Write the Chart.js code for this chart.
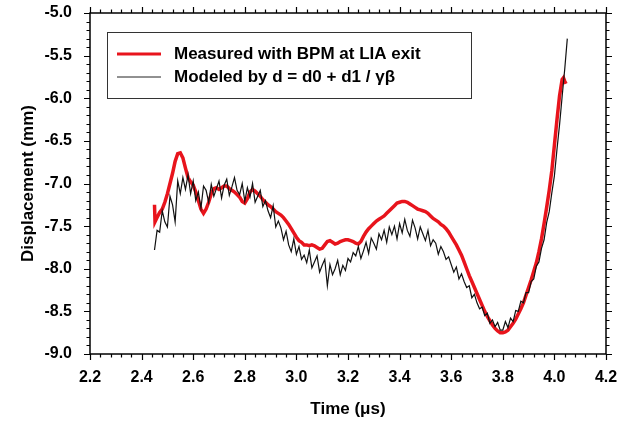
<!DOCTYPE html>
<html>
<head>
<meta charset="utf-8">
<script src="https://cdn.jsdelivr.net/npm/chart.js@4.4.1/dist/chart.umd.min.js"></script>
<style>
  html, body { margin: 0; padding: 0; background: #fff; }
  #wrap { width: 630px; height: 424px; }
</style>
</head>
<body>
<div id="wrap"><canvas id="chart" width="630" height="424"></canvas></div>
<script>
// tick labels
var xTicks = [2.2, 2.4, 2.6, 2.8, 3.0, 3.2, 3.4, 3.6, 3.8, 4.0, 4.2];
var yTicks = [-9.0, -8.5, -8.0, -7.5, -7.0, -6.5, -6.0, -5.5, -5.0];

var seriesNames = ["Measured with BPM at LIA exit", "Modeled by d = d0 + d1 / \u03b3\u03b2"];

// measured (red)
var redTime = [2.450, 2.452, 2.46, 2.47, 2.48, 2.49, 2.50, 2.51, 2.52, 2.53, 2.54, 2.55, 2.56, 2.57, 2.58, 2.59,
  2.60, 2.61, 2.62, 2.63, 2.64, 2.65, 2.66, 2.67, 2.68, 2.69, 2.70, 2.71, 2.72, 2.73, 2.74, 2.75, 2.76, 2.77, 2.78, 2.79,
  2.80, 2.81, 2.82, 2.83, 2.84, 2.85, 2.86, 2.87, 2.88, 2.89, 2.90, 2.91, 2.92, 2.93, 2.94, 2.95, 2.96, 2.97, 2.98, 2.99,
  3.00, 3.01, 3.02, 3.03, 3.04, 3.05, 3.06, 3.07, 3.08, 3.09, 3.10, 3.11, 3.12, 3.13, 3.14, 3.15, 3.16, 3.17, 3.18, 3.19,
  3.20, 3.21, 3.22, 3.23, 3.24, 3.25, 3.26, 3.27, 3.28, 3.29, 3.30, 3.31, 3.32, 3.33, 3.34, 3.35, 3.36, 3.37, 3.38, 3.39,
  3.40, 3.41, 3.42, 3.43, 3.44, 3.45, 3.46, 3.47, 3.48, 3.49, 3.50, 3.51, 3.52, 3.53, 3.54, 3.55, 3.56, 3.57, 3.58, 3.59,
  3.60, 3.61, 3.62, 3.63, 3.64, 3.65, 3.66, 3.67, 3.68, 3.69, 3.70, 3.71, 3.72, 3.73, 3.74, 3.75, 3.76, 3.77, 3.78, 3.79,
  3.80, 3.81, 3.82, 3.83, 3.84, 3.85, 3.86, 3.87, 3.88, 3.89, 3.90, 3.91, 3.92, 3.93, 3.94, 3.95, 3.96, 3.97, 3.98, 3.99,
  4.00, 4.01, 4.02, 4.03, 4.035, 4.04, 4.045];
var redDisp = [-7.25, -7.45, -7.40, -7.34, -7.30, -7.22, -7.12, -7.00, -6.88, -6.74, -6.65, -6.64, -6.70, -6.82, -6.93, -6.98,
  -7.02, -7.10, -7.20, -7.30, -7.35, -7.30, -7.22, -7.12, -7.06, -7.05, -7.07, -7.05, -7.03, -7.03, -7.06, -7.08, -7.10, -7.13, -7.16, -7.21,
  -7.23, -7.18, -7.10, -7.07, -7.09, -7.12, -7.15, -7.19, -7.22, -7.25, -7.27, -7.30, -7.33, -7.35, -7.37, -7.40, -7.44, -7.48, -7.53, -7.58,
  -7.63, -7.67, -7.69, -7.72, -7.72, -7.73, -7.72, -7.73, -7.75, -7.77, -7.76, -7.72, -7.68, -7.67, -7.69, -7.71, -7.70, -7.68, -7.67, -7.66,
  -7.66, -7.67, -7.68, -7.70, -7.71, -7.68, -7.62, -7.57, -7.53, -7.50, -7.47, -7.44, -7.42, -7.40, -7.38, -7.35, -7.32, -7.29, -7.26, -7.23,
  -7.22, -7.21, -7.21, -7.22, -7.24, -7.26, -7.28, -7.30, -7.31, -7.32, -7.33, -7.35, -7.38, -7.41, -7.43, -7.45, -7.48, -7.50, -7.53, -7.57,
  -7.62, -7.67, -7.72, -7.78, -7.84, -7.92, -8.00, -8.08, -8.15, -8.22, -8.29, -8.36, -8.43, -8.50, -8.56, -8.61, -8.66, -8.70, -8.73, -8.75,
  -8.75, -8.74, -8.72, -8.68, -8.64, -8.59, -8.53, -8.47, -8.40, -8.31, -8.22, -8.13, -8.03, -7.93, -7.80, -7.65, -7.47, -7.28, -7.08, -6.85,
  -6.55, -6.25, -5.97, -5.78, -5.76, -5.80, -5.83];

// modeled (black, noisy)
var blackTime = [2.45, 2.46, 2.47, 2.48, 2.49, 2.50, 2.51, 2.52, 2.53, 2.54, 2.55, 2.56, 2.57, 2.58, 2.59,
  2.60, 2.61, 2.62, 2.63, 2.64, 2.65, 2.66, 2.67, 2.68, 2.69, 2.70, 2.71, 2.72, 2.73, 2.74, 2.75, 2.76, 2.77, 2.78, 2.79,
  2.80, 2.81, 2.82, 2.83, 2.84, 2.85, 2.86, 2.87, 2.88, 2.89, 2.90, 2.91, 2.92, 2.93, 2.94, 2.95, 2.96, 2.97, 2.98, 2.99,
  3.00, 3.01, 3.02, 3.03, 3.04, 3.05, 3.06, 3.07, 3.08, 3.09, 3.10, 3.11, 3.12, 3.13, 3.14, 3.15, 3.16, 3.17, 3.18, 3.19,
  3.20, 3.21, 3.22, 3.23, 3.24, 3.25, 3.26, 3.27, 3.28, 3.29, 3.30, 3.31, 3.32, 3.33, 3.34, 3.35, 3.36, 3.37, 3.38, 3.39,
  3.40, 3.41, 3.42, 3.43, 3.44, 3.45, 3.46, 3.47, 3.48, 3.49, 3.50, 3.51, 3.52, 3.53, 3.54, 3.55, 3.56, 3.57, 3.58, 3.59,
  3.60, 3.61, 3.62, 3.63, 3.64, 3.65, 3.66, 3.67, 3.68, 3.69, 3.70, 3.71, 3.72, 3.73, 3.74, 3.75, 3.76, 3.77, 3.78, 3.79,
  3.80, 3.81, 3.82, 3.83, 3.84, 3.85, 3.86, 3.87, 3.88, 3.89, 3.90, 3.91, 3.92, 3.93, 3.94, 3.95, 3.96, 3.97, 3.98, 3.99,
  4.00, 4.01, 4.02, 4.03, 4.04, 4.05];
var blackDisp = [-7.78, -7.55, -7.57, -7.32, -7.45, -7.51, -7.15, -7.25, -7.45, -6.97, -7.12, -6.93, -7.07, -6.90, -7.12,
  -6.97, -7.20, -7.10, -7.29, -7.03, -7.08, -7.22, -7.01, -7.15, -7.06, -6.97, -7.17, -7.02, -6.95, -7.14, -7.04, -6.93, -7.08, -7.13, -7.00,
  -7.21, -7.05, -7.16, -7.00, -7.22, -7.15, -7.08, -7.27, -7.20, -7.32, -7.40, -7.26, -7.51, -7.44, -7.52, -7.66, -7.56, -7.72, -7.80, -7.65,
  -7.83, -7.74, -7.89, -7.84, -7.93, -7.78, -7.99, -7.92, -7.85, -8.04, -7.96, -7.89, -8.20, -7.95, -8.07, -8.00, -7.90, -8.07, -7.96, -8.02,
  -7.88, -7.92, -7.81, -7.85, -7.74, -7.88, -7.79, -7.69, -7.82, -7.64, -7.70, -7.77, -7.59, -7.66, -7.55, -7.69, -7.51, -7.60, -7.50, -7.65,
  -7.47, -7.58, -7.42, -7.55, -7.62, -7.43, -7.52, -7.65, -7.51, -7.59, -7.67, -7.55, -7.73, -7.66, -7.70, -7.83, -7.74, -7.80, -7.89, -7.86,
  -7.95, -8.04, -7.98, -8.12, -8.06, -8.15, -8.22, -8.20, -8.34, -8.30, -8.40, -8.47, -8.45, -8.55, -8.52, -8.64, -8.60, -8.68, -8.63, -8.72,
  -8.72, -8.62, -8.69, -8.58, -8.62, -8.49, -8.50, -8.38, -8.40, -8.28, -8.28, -8.15, -8.12, -7.97, -7.92, -7.76, -7.66, -7.46, -7.33, -7.11,
  -6.91, -6.60, -6.31, -5.98, -5.66, -5.30];

var FONT = "'Liberation Sans', Arial, sans-serif";

function toPoints(ts, vs) {
  return ts.map((t, i) => ({ x: t, y: vs[i] }));
}

// frame + outward ticks on all four sides
const frameTicks = {
  id: "frameTicks",
  afterDraw(chart) {
    const { ctx, chartArea: a, scales } = chart;
    ctx.save();
    ctx.strokeStyle = "#000";
    ctx.lineWidth = 1.5;
    ctx.strokeRect(a.left, a.top, a.right - a.left, a.bottom - a.top);
    ctx.lineWidth = 1.2;
    ctx.beginPath();
    for (let i = 0; i <= 50; i++) {
      const px = Math.round(scales.x.getPixelForValue(2.2 + i * 0.04)) + 0.5;
      const len = i % 5 === 0 ? 6 : 3.5;
      ctx.moveTo(px, a.bottom); ctx.lineTo(px, a.bottom + len);
      ctx.moveTo(px, a.top); ctx.lineTo(px, a.top - len);
    }
    for (let i = 0; i <= 40; i++) {
      const py = Math.round(scales.y.getPixelForValue(-9 + i * 0.1)) + 0.5;
      const len = i % 5 === 0 ? 6 : 3.5;
      ctx.moveTo(a.left, py); ctx.lineTo(a.left - len, py);
      ctx.moveTo(a.right, py); ctx.lineTo(a.right + len, py);
    }
    ctx.stroke();
    ctx.restore();
  }
};

// boxed legend in the upper left of the plot
const boxLegend = {
  id: "boxLegend",
  afterDraw(chart) {
    const { ctx, chartArea: a } = chart;
    const bx = a.left + 17, by = a.top + 19, bw = 364, bh = 66;
    ctx.save();
    ctx.fillStyle = "#fff";
    ctx.fillRect(bx, by, bw, bh);
    ctx.strokeStyle = "#333";
    ctx.lineWidth = 1;
    ctx.strokeRect(bx + 0.5, by + 0.5, bw, bh);
    const rows = [
      { y: by + 22, color: "#e8141c", w: 3, text: seriesNames[0] },
      { y: by + 45, color: "#222", w: 1, text: seriesNames[1] }
    ];
    ctx.font = "bold 17px " + FONT;
    ctx.textBaseline = "middle";
    rows.forEach(r => {
      ctx.strokeStyle = r.color;
      ctx.lineWidth = r.w;
      ctx.beginPath();
      ctx.moveTo(bx + 10, r.y);
      ctx.lineTo(bx + 54, r.y);
      ctx.stroke();
      ctx.fillStyle = "#000";
      ctx.fillText(r.text, bx + 67, r.y);
    });
    ctx.restore();
  }
};

const ctx = document.getElementById("chart").getContext("2d");
new Chart(ctx, {
  type: "line",
  data: {
    datasets: [{
      label: seriesNames[1],
      data: toPoints(blackTime, blackDisp),
      borderColor: "#111",
      borderWidth: 1.2,
      pointRadius: 0,
      tension: 0,
      order: 0
    }, {
      label: seriesNames[0],
      data: toPoints(redTime, redDisp),
      borderColor: "#e8141c",
      borderWidth: 3.5,
      pointRadius: 0,
      tension: 0,
      order: 1
    }]
  },
  options: {
    responsive: false,
    animation: false,
    parsing: false,
    layout: { padding: { top: 13, right: 24, left: 14, bottom: 0 } },
    plugins: { legend: { display: false }, tooltip: { enabled: false } },
    scales: {
      x: {
        type: "linear",
        min: 2.2,
        max: 4.2,
        afterBuildTicks: s => { s.ticks = xTicks.map(v => ({ value: v })); },
        afterFit: s => { s.height = 70; s.paddingLeft = 0; s.paddingRight = 0; },
        grid: { display: false },
        border: { display: false },
        ticks: {
          color: "#000",
          padding: 6,
          maxRotation: 0,
          font: { family: FONT, size: 16, weight: "bold" },
          callback: v => v.toFixed(1)
        },
        title: {
          display: true,
          text: "Time (\u03bcs)",
          color: "#000",
          padding: { top: 10 },
          font: { family: FONT, size: 17, weight: "bold" }
        }
      },
      y: {
        min: -9,
        max: -5,
        afterBuildTicks: s => { s.ticks = yTicks.map(v => ({ value: v })); },
        afterFit: s => { s.width = 76; s.paddingTop = 0; s.paddingBottom = 0; },
        grid: { display: false },
        border: { display: false },
        ticks: {
          color: "#000",
          padding: 10,
          font: { family: FONT, size: 16, weight: "bold" },
          callback: v => v.toFixed(1)
        },
        title: {
          display: true,
          text: "Displacement (mm)",
          color: "#000",
          font: { family: FONT, size: 17, weight: "bold" }
        }
      }
    }
  },
  plugins: [frameTicks, boxLegend]
});
</script>
</body>
</html>
